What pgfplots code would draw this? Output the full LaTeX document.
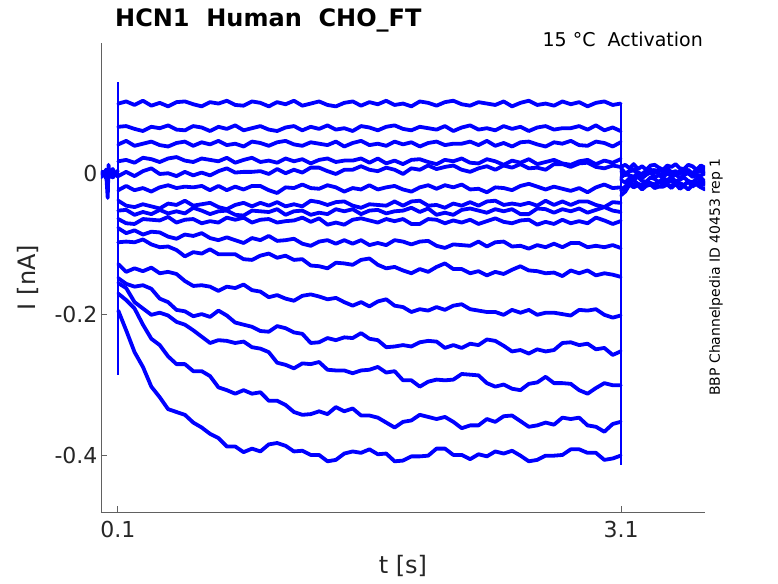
\documentclass[border=0pt]{standalone}
\usepackage{fontspec}
\setmainfont{DejaVu Sans}
\usepackage{pgfplots}
\pgfplotsset{compat=1.18}
\definecolor{axgray}{rgb}{0.38,0.38,0.38}
\definecolor{txtgray}{rgb}{0.15,0.15,0.15}
\begin{document}
\begin{tikzpicture}
\path[use as bounding box] (-101pt,-71pt) rectangle (677pt,512pt);
\begin{axis}[
  at={(0pt,0pt)}, anchor=south west,
  scale only axis, width=604pt, height=469pt,
  xmin=0, xmax=3.6, ymin=-0.48, ymax=0.186,
  axis x line*=bottom, axis y line*=left,
  axis line style={axgray, line width=0.8pt},
  xtick={0.1,3.1}, xticklabels={0.1,3.1},
  ytick={-0.4,-0.2,0}, yticklabels={-0.4,-0.2,0},
  tick align=inside, major tick length=6pt,
  tick style={axgray, line width=0.8pt},
  ticklabel style={font=\fontsize{22}{26}\selectfont, text=txtgray},
  xticklabel style={yshift=-6pt},
  xlabel={t [s]}, ylabel={I [nA]},
  label style={font=\fontsize{24}{28}\selectfont, text=txtgray},
  xlabel style={at={(axis description cs:0.5,-0.1151)}, anchor=center},
  ylabel style={at={(axis description cs:-0.1209,0.5)}, anchor=center},
  tr/.style={color=blue, line width=3.8pt, line join=round, line cap=round},
  tv/.style={color=blue, line width=2.2pt, line join=miter, line cap=butt},
]
% pre-step
\addplot[tr] coordinates {(0,0)(0.01,0.003)(0.02,-0.002)(0.03,0.004)(0.04,-0.034)(0.045,0.013)(0.05,-0.003)(0.06,-0.004)(0.07,0.002)(0.08,0.003)(0.09,-0.001)(0.1,0)};
\addplot[tr] coordinates {(0,-0.005)(0.01,0.001)(0.02,-0.001)(0.03,-0.006)(0.04,0)(0.05,-0.003)(0.06,0.002)(0.07,-0.005)(0.08,-0.002)(0.09,0.001)(0.1,-0.004)};
\addplot[tr] coordinates {(0,0.001)(0.01,0.003)(0.02,-0.001)(0.03,0.006)(0.04,0.004)(0.05,0)(0.06,0.005)(0.07,0.007)(0.08,0.002)(0.09,0)(0.1,0.005)};
% step transients (vertical edges at 0.1 s and 3.1 s)
\addplot[tv] coordinates {(0.1,0.13)(0.1,-0.285)};
\addplot[tv] coordinates {(3.1,0.100)(3.1,-0.413)};
% step traces
\addplot[tr] coordinates {(0.103,0.100)(0.15,0.103)(0.2,0.098)(0.25,0.104)(0.3,0.097)(0.35,0.101)(0.4,0.096)(0.45,0.102)(0.5,0.103)(0.55,0.099)(0.6,0.096)(0.65,0.102)(0.7,0.100)(0.75,0.104)(0.8,0.098)(0.85,0.097)(0.9,0.103)(0.95,0.101)(1.0,0.096)(1.05,0.102)(1.1,0.099)(1.15,0.104)(1.2,0.097)(1.25,0.100)(1.3,0.103)(1.35,0.098)(1.4,0.096)(1.45,0.101)(1.5,0.103)(1.55,0.097)(1.6,0.102)(1.65,0.099)(1.7,0.104)(1.75,0.098)(1.8,0.100)(1.85,0.096)(1.9,0.103)(1.95,0.101)(2.0,0.097)(2.05,0.102)(2.1,0.104)(2.15,0.099)(2.2,0.097)(2.25,0.102)(2.3,0.100)(2.35,0.098)(2.4,0.103)(2.45,0.096)(2.5,0.101)(2.55,0.104)(2.6,0.098)(2.65,0.100)(2.7,0.097)(2.75,0.103)(2.8,0.099)(2.85,0.102)(2.9,0.096)(2.95,0.101)(3.0,0.103)(3.05,0.098)(3.097,0.100)};
\addplot[tr] coordinates {(0.103,0.067)(0.15,0.068)(0.2,0.064)(0.25,0.061)(0.3,0.067)(0.35,0.065)(0.4,0.069)(0.45,0.063)(0.5,0.062)(0.55,0.068)(0.6,0.066)(0.65,0.061)(0.7,0.067)(0.75,0.064)(0.8,0.069)(0.85,0.062)(0.9,0.065)(0.95,0.068)(1.0,0.063)(1.05,0.061)(1.1,0.066)(1.15,0.068)(1.2,0.062)(1.25,0.067)(1.3,0.064)(1.35,0.069)(1.4,0.063)(1.45,0.065)(1.5,0.061)(1.55,0.068)(1.6,0.066)(1.65,0.062)(1.7,0.067)(1.75,0.069)(1.8,0.064)(1.85,0.062)(1.9,0.067)(1.95,0.065)(2.0,0.063)(2.05,0.068)(2.1,0.061)(2.15,0.066)(2.2,0.069)(2.25,0.063)(2.3,0.065)(2.35,0.062)(2.4,0.068)(2.45,0.064)(2.5,0.067)(2.55,0.061)(2.6,0.066)(2.65,0.068)(2.7,0.063)(2.75,0.065)(2.8,0.065)(2.85,0.068)(2.9,0.063)(2.95,0.069)(3.0,0.062)(3.05,0.066)(3.097,0.061)};
\addplot[tr] coordinates {(0.103,0.042)(0.15,0.047)(0.2,0.040)(0.25,0.043)(0.3,0.046)(0.35,0.041)(0.4,0.039)(0.45,0.044)(0.5,0.046)(0.55,0.040)(0.6,0.045)(0.65,0.042)(0.7,0.047)(0.75,0.041)(0.8,0.043)(0.85,0.039)(0.9,0.046)(0.95,0.044)(1.0,0.040)(1.05,0.045)(1.1,0.047)(1.15,0.042)(1.2,0.040)(1.25,0.045)(1.3,0.043)(1.35,0.041)(1.4,0.046)(1.45,0.039)(1.5,0.044)(1.55,0.047)(1.6,0.041)(1.65,0.043)(1.7,0.040)(1.75,0.046)(1.8,0.042)(1.85,0.045)(1.9,0.039)(1.95,0.044)(2.0,0.046)(2.05,0.041)(2.1,0.043)(2.15,0.043)(2.2,0.046)(2.25,0.041)(2.3,0.047)(2.35,0.040)(2.4,0.044)(2.45,0.039)(2.5,0.045)(2.55,0.046)(2.6,0.042)(2.65,0.039)(2.7,0.045)(2.75,0.043)(2.8,0.047)(2.85,0.041)(2.9,0.040)(2.95,0.046)(3.0,0.044)(3.05,0.039)(3.097,0.045)};
\addplot[tr] coordinates {(0.103,0.018)(0.15,0.020)(0.2,0.016)(0.25,0.023)(0.3,0.021)(0.35,0.017)(0.4,0.022)(0.45,0.024)(0.5,0.019)(0.55,0.017)(0.6,0.022)(0.65,0.020)(0.7,0.018)(0.75,0.023)(0.8,0.016)(0.85,0.020)(0.9,0.023)(0.95,0.017)(1.0,0.019)(1.05,0.016)(1.1,0.022)(1.15,0.018)(1.2,0.021)(1.25,0.015)(1.3,0.020)(1.35,0.022)(1.4,0.017)(1.45,0.019)(1.5,0.019)(1.55,0.022)(1.6,0.016)(1.65,0.022)(1.7,0.015)(1.75,0.019)(1.8,0.014)(1.85,0.020)(1.9,0.021)(1.95,0.017)(2.0,0.014)(2.05,0.020)(2.1,0.018)(2.15,0.022)(2.2,0.016)(2.25,0.015)(2.3,0.021)(2.35,0.018)(2.4,0.013)(2.45,0.019)(2.5,0.016)(2.55,0.021)(2.6,0.014)(2.65,0.017)(2.7,0.020)(2.75,0.015)(2.8,0.013)(2.85,0.018)(2.9,0.020)(2.95,0.014)(3.0,0.019)(3.05,0.016)(3.097,0.021)};
\addplot[tr] coordinates {(0.103,-0.003)(0.15,0.003)(0.2,-0.003)(0.25,0.004)(0.3,0.008)(0.35,0.000)(0.4,0.001)(0.45,-0.003)(0.5,0.003)(0.55,-0.002)(0.6,0.002)(0.65,-0.002)(0.7,0.004)(0.75,0.008)(0.8,0.002)(0.85,0.003)(0.9,0.003)(0.95,0.004)(1.0,0.000)(1.05,0.007)(1.1,0.001)(1.15,0.006)(1.2,0.002)(1.25,0.009)(1.3,0.009)(1.35,0.004)(1.4,0.000)(1.45,0.006)(1.5,0.006)(1.55,0.011)(1.6,0.006)(1.65,0.004)(1.7,0.009)(1.75,0.006)(1.8,0.000)(1.85,0.008)(1.9,0.006)(1.95,0.012)(2.0,0.007)(2.05,0.010)(2.1,0.012)(2.15,0.006)(2.2,0.003)(2.25,0.008)(2.3,0.011)(2.35,0.006)(2.4,0.012)(2.45,0.009)(2.5,0.014)(2.55,0.008)(2.6,0.009)(2.65,0.006)(2.7,0.014)(2.75,0.014)(2.8,0.010)(2.85,0.015)(2.9,0.016)(2.95,0.010)(3.0,0.008)(3.05,0.012)(3.097,0.010)};
\addplot[tr] coordinates {(0.103,-0.023)(0.15,-0.017)(0.2,-0.023)(0.25,-0.020)(0.3,-0.025)(0.35,-0.019)(0.4,-0.016)(0.45,-0.020)(0.5,-0.018)(0.55,-0.019)(0.6,-0.017)(0.65,-0.023)(0.7,-0.017)(0.75,-0.023)(0.8,-0.018)(0.85,-0.022)(0.9,-0.017)(0.95,-0.017)(1.0,-0.023)(1.05,-0.027)(1.1,-0.019)(1.15,-0.020)(1.2,-0.015)(1.25,-0.020)(1.3,-0.021)(1.35,-0.016)(1.4,-0.019)(1.45,-0.025)(1.5,-0.020)(1.55,-0.022)(1.6,-0.016)(1.65,-0.022)(1.7,-0.019)(1.75,-0.017)(1.8,-0.022)(1.85,-0.025)(1.9,-0.019)(1.95,-0.016)(2.0,-0.021)(2.05,-0.016)(2.1,-0.019)(2.15,-0.015)(2.2,-0.022)(2.25,-0.021)(2.3,-0.026)(2.35,-0.019)(2.4,-0.020)(2.45,-0.023)(2.5,-0.017)(2.55,-0.014)(2.6,-0.018)(2.65,-0.022)(2.7,-0.018)(2.75,-0.021)(2.8,-0.024)(2.85,-0.020)(2.9,-0.026)(2.95,-0.019)(3.0,-0.015)(3.05,-0.020)(3.097,-0.019)};
\addplot[tr] coordinates {(0.103,-0.038)(0.15,-0.045)(0.2,-0.047)(0.25,-0.043)(0.3,-0.046)(0.35,-0.049)(0.4,-0.042)(0.45,-0.044)(0.5,-0.038)(0.55,-0.045)(0.6,-0.043)(0.65,-0.041)(0.7,-0.047)(0.75,-0.050)(0.8,-0.044)(0.85,-0.041)(0.9,-0.046)(0.95,-0.041)(1.0,-0.045)(1.05,-0.040)(1.1,-0.046)(1.15,-0.043)(1.2,-0.046)(1.25,-0.038)(1.3,-0.040)(1.35,-0.044)(1.4,-0.040)(1.45,-0.039)(1.5,-0.045)(1.55,-0.048)(1.6,-0.043)(1.65,-0.044)(1.7,-0.045)(1.75,-0.039)(1.8,-0.045)(1.85,-0.039)(1.9,-0.038)(1.95,-0.045)(2.0,-0.044)(2.05,-0.048)(2.1,-0.042)(2.15,-0.045)(2.2,-0.040)(2.25,-0.045)(2.3,-0.039)(2.35,-0.038)(2.4,-0.044)(2.45,-0.042)(2.5,-0.044)(2.55,-0.041)(2.6,-0.045)(2.65,-0.038)(2.7,-0.044)(2.75,-0.039)(2.8,-0.044)(2.85,-0.039)(2.9,-0.039)(2.95,-0.044)(3.0,-0.047)(3.05,-0.040)(3.097,-0.041)};
\addplot[tr] coordinates {(0.103,-0.052)(0.15,-0.051)(0.2,-0.058)(0.25,-0.054)(0.3,-0.057)(0.35,-0.051)(0.4,-0.056)(0.45,-0.053)(0.5,-0.056)(0.55,-0.048)(0.6,-0.052)(0.65,-0.057)(0.7,-0.053)(0.75,-0.052)(0.8,-0.058)(0.85,-0.059)(0.9,-0.052)(0.95,-0.053)(1.0,-0.054)(1.05,-0.050)(1.1,-0.058)(1.15,-0.053)(1.2,-0.052)(1.25,-0.058)(1.3,-0.055)(1.35,-0.057)(1.4,-0.050)(1.45,-0.053)(1.5,-0.050)(1.55,-0.057)(1.6,-0.052)(1.65,-0.051)(1.7,-0.056)(1.75,-0.053)(1.8,-0.052)(1.85,-0.048)(1.9,-0.054)(1.95,-0.049)(2.0,-0.058)(2.05,-0.055)(2.1,-0.058)(2.15,-0.051)(2.2,-0.049)(2.25,-0.052)(2.3,-0.055)(2.35,-0.050)(2.4,-0.053)(2.45,-0.050)(2.5,-0.057)(2.55,-0.057)(2.6,-0.049)(2.65,-0.050)(2.7,-0.055)(2.75,-0.050)(2.8,-0.053)(2.85,-0.049)(2.9,-0.055)(2.95,-0.051)(3.0,-0.047)(3.05,-0.052)(3.097,-0.054)};
\addplot[tr] coordinates {(0.103,-0.064)(0.15,-0.070)(0.2,-0.071)(0.25,-0.064)(0.3,-0.065)(0.35,-0.066)(0.4,-0.061)(0.45,-0.069)(0.5,-0.065)(0.55,-0.064)(0.6,-0.070)(0.65,-0.067)(0.7,-0.069)(0.75,-0.062)(0.8,-0.065)(0.85,-0.062)(0.9,-0.069)(0.95,-0.065)(1.0,-0.064)(1.05,-0.069)(1.1,-0.067)(1.15,-0.066)(1.2,-0.062)(1.25,-0.068)(1.3,-0.063)(1.35,-0.072)(1.4,-0.069)(1.45,-0.072)(1.5,-0.065)(1.55,-0.063)(1.6,-0.066)(1.65,-0.069)(1.7,-0.064)(1.75,-0.067)(1.8,-0.064)(1.85,-0.071)(1.9,-0.071)(1.95,-0.064)(2.0,-0.065)(2.05,-0.070)(2.1,-0.066)(2.15,-0.069)(2.2,-0.065)(2.25,-0.071)(2.3,-0.067)(2.35,-0.063)(2.4,-0.068)(2.45,-0.070)(2.5,-0.066)(2.55,-0.065)(2.6,-0.072)(2.65,-0.068)(2.7,-0.071)(2.75,-0.065)(2.8,-0.070)(2.85,-0.067)(2.9,-0.070)(2.95,-0.062)(3.0,-0.066)(3.05,-0.071)(3.097,-0.067)};
\addplot[tr] coordinates {(0.103,-0.077)(0.15,-0.084)(0.2,-0.080)(0.25,-0.086)(0.3,-0.082)(0.35,-0.083)(0.4,-0.089)(0.45,-0.092)(0.5,-0.086)(0.55,-0.088)(0.6,-0.084)(0.65,-0.091)(0.7,-0.094)(0.75,-0.090)(0.8,-0.094)(0.85,-0.098)(0.9,-0.091)(0.95,-0.094)(1.0,-0.088)(1.05,-0.095)(1.1,-0.094)(1.15,-0.092)(1.2,-0.099)(1.25,-0.102)(1.3,-0.096)(1.35,-0.094)(1.4,-0.099)(1.45,-0.094)(1.5,-0.099)(1.55,-0.094)(1.6,-0.101)(1.65,-0.098)(1.7,-0.101)(1.75,-0.094)(1.8,-0.096)(1.85,-0.100)(1.9,-0.096)(1.95,-0.095)(2.0,-0.102)(2.05,-0.105)(2.1,-0.100)(2.15,-0.101)(2.2,-0.102)(2.25,-0.096)(2.3,-0.103)(2.35,-0.097)(2.4,-0.096)(2.45,-0.103)(2.5,-0.102)(2.55,-0.106)(2.6,-0.101)(2.65,-0.104)(2.7,-0.099)(2.75,-0.104)(2.8,-0.098)(2.85,-0.098)(2.9,-0.104)(2.95,-0.102)(3.0,-0.104)(3.05,-0.101)(3.097,-0.105)};
\addplot[tr] coordinates {(0.103,-0.097)(0.15,-0.096)(0.2,-0.097)(0.25,-0.093)(0.3,-0.100)(0.35,-0.104)(0.4,-0.103)(0.45,-0.108)(0.5,-0.117)(0.55,-0.111)(0.6,-0.113)(0.65,-0.107)(0.7,-0.114)(0.75,-0.114)(0.8,-0.114)(0.85,-0.121)(0.9,-0.122)(0.95,-0.116)(1.0,-0.113)(1.05,-0.119)(1.1,-0.116)(1.15,-0.122)(1.2,-0.121)(1.25,-0.130)(1.3,-0.131)(1.35,-0.134)(1.4,-0.126)(1.45,-0.127)(1.5,-0.129)(1.55,-0.122)(1.6,-0.120)(1.65,-0.129)(1.7,-0.134)(1.75,-0.132)(1.8,-0.137)(1.85,-0.141)(1.9,-0.135)(1.95,-0.139)(2.0,-0.132)(2.05,-0.127)(2.1,-0.135)(2.15,-0.135)(2.2,-0.141)(2.25,-0.138)(2.3,-0.144)(2.35,-0.139)(2.4,-0.142)(2.45,-0.136)(2.5,-0.131)(2.55,-0.137)(2.6,-0.138)(2.65,-0.141)(2.7,-0.140)(2.75,-0.145)(2.8,-0.137)(2.85,-0.141)(2.9,-0.137)(2.95,-0.144)(3.0,-0.141)(3.05,-0.143)(3.097,-0.146)};
\addplot[tr] coordinates {(0.103,-0.128)(0.15,-0.139)(0.2,-0.134)(0.25,-0.138)(0.3,-0.133)(0.35,-0.141)(0.4,-0.139)(0.45,-0.142)(0.5,-0.152)(0.55,-0.159)(0.6,-0.158)(0.65,-0.160)(0.7,-0.166)(0.75,-0.160)(0.8,-0.162)(0.85,-0.157)(0.9,-0.165)(0.95,-0.167)(1.0,-0.175)(1.05,-0.172)(1.1,-0.177)(1.15,-0.180)(1.2,-0.173)(1.25,-0.171)(1.3,-0.174)(1.35,-0.178)(1.4,-0.176)(1.45,-0.182)(1.5,-0.187)(1.55,-0.182)(1.6,-0.188)(1.65,-0.181)(1.7,-0.178)(1.75,-0.187)(1.8,-0.189)(1.85,-0.196)(1.9,-0.192)(1.95,-0.194)(2.0,-0.189)(2.05,-0.193)(2.1,-0.187)(2.15,-0.185)(2.2,-0.192)(2.25,-0.194)(2.3,-0.196)(2.35,-0.196)(2.4,-0.200)(2.45,-0.193)(2.5,-0.197)(2.55,-0.193)(2.6,-0.200)(2.65,-0.197)(2.7,-0.197)(2.75,-0.199)(2.8,-0.201)(2.85,-0.193)(2.9,-0.194)(2.95,-0.192)(3.0,-0.200)(3.05,-0.204)(3.097,-0.201)};
\addplot[tr] coordinates {(0.103,-0.148)(0.15,-0.156)(0.2,-0.160)(0.25,-0.158)(0.3,-0.163)(0.35,-0.177)(0.4,-0.182)(0.45,-0.193)(0.5,-0.195)(0.55,-0.202)(0.6,-0.199)(0.65,-0.203)(0.7,-0.194)(0.75,-0.201)(0.8,-0.211)(0.85,-0.214)(0.9,-0.217)(0.95,-0.223)(1.0,-0.224)(1.05,-0.216)(1.1,-0.219)(1.15,-0.225)(1.2,-0.227)(1.25,-0.240)(1.3,-0.239)(1.35,-0.233)(1.4,-0.236)(1.45,-0.232)(1.5,-0.233)(1.55,-0.226)(1.6,-0.234)(1.65,-0.236)(1.7,-0.246)(1.75,-0.245)(1.8,-0.243)(1.85,-0.245)(1.9,-0.239)(1.95,-0.237)(2.0,-0.238)(2.05,-0.247)(2.1,-0.243)(2.15,-0.247)(2.2,-0.241)(2.25,-0.243)(2.3,-0.235)(2.35,-0.237)(2.4,-0.244)(2.45,-0.252)(2.5,-0.250)(2.55,-0.255)(2.6,-0.249)(2.65,-0.252)(2.7,-0.250)(2.75,-0.240)(2.8,-0.239)(2.85,-0.243)(2.9,-0.241)(2.95,-0.249)(3.0,-0.247)(3.05,-0.257)(3.097,-0.252)};
\addplot[tr] coordinates {(0.103,-0.155)(0.15,-0.162)(0.2,-0.182)(0.25,-0.191)(0.3,-0.200)(0.35,-0.197)(0.4,-0.201)(0.45,-0.210)(0.5,-0.214)(0.55,-0.222)(0.6,-0.231)(0.65,-0.240)(0.7,-0.236)(0.75,-0.237)(0.8,-0.240)(0.85,-0.238)(0.9,-0.246)(0.95,-0.248)(1.0,-0.253)(1.05,-0.268)(1.1,-0.271)(1.15,-0.276)(1.2,-0.269)(1.25,-0.270)(1.3,-0.267)(1.35,-0.278)(1.4,-0.279)(1.45,-0.279)(1.5,-0.283)(1.55,-0.279)(1.6,-0.278)(1.65,-0.274)(1.7,-0.282)(1.75,-0.280)(1.8,-0.293)(1.85,-0.293)(1.9,-0.302)(1.95,-0.295)(2.0,-0.292)(2.05,-0.293)(2.1,-0.292)(2.15,-0.284)(2.2,-0.285)(2.25,-0.286)(2.3,-0.297)(2.35,-0.302)(2.4,-0.299)(2.45,-0.305)(2.5,-0.307)(2.55,-0.298)(2.6,-0.296)(2.65,-0.288)(2.7,-0.297)(2.75,-0.297)(2.8,-0.298)(2.85,-0.307)(2.9,-0.312)(2.95,-0.304)(3.0,-0.297)(3.05,-0.300)(3.097,-0.300)};
\addplot[tr] coordinates {(0.103,-0.170)(0.15,-0.179)(0.2,-0.191)(0.25,-0.214)(0.3,-0.234)(0.35,-0.243)(0.4,-0.259)(0.45,-0.270)(0.5,-0.270)(0.55,-0.280)(0.6,-0.280)(0.65,-0.287)(0.7,-0.303)(0.75,-0.307)(0.8,-0.312)(0.85,-0.307)(0.9,-0.312)(0.95,-0.310)(1.0,-0.322)(1.05,-0.322)(1.1,-0.328)(1.15,-0.338)(1.2,-0.342)(1.25,-0.341)(1.3,-0.337)(1.35,-0.341)(1.4,-0.331)(1.45,-0.337)(1.5,-0.333)(1.55,-0.343)(1.6,-0.343)(1.65,-0.346)(1.7,-0.353)(1.75,-0.360)(1.8,-0.352)(1.85,-0.350)(1.9,-0.342)(1.95,-0.345)(2.0,-0.348)(2.05,-0.345)(2.1,-0.352)(2.15,-0.361)(2.2,-0.357)(2.25,-0.357)(2.3,-0.348)(2.35,-0.352)(2.4,-0.344)(2.45,-0.343)(2.5,-0.351)(2.55,-0.359)(2.6,-0.357)(2.65,-0.353)(2.7,-0.356)(2.75,-0.346)(2.8,-0.348)(2.85,-0.346)(2.9,-0.357)(2.95,-0.359)(3.0,-0.366)(3.05,-0.355)(3.097,-0.352)};
\addplot[tr] coordinates {(0.103,-0.194)(0.15,-0.222)(0.2,-0.253)(0.25,-0.274)(0.3,-0.302)(0.35,-0.317)(0.4,-0.334)(0.45,-0.338)(0.5,-0.342)(0.55,-0.353)(0.6,-0.360)(0.65,-0.369)(0.7,-0.375)(0.75,-0.387)(0.8,-0.387)(0.85,-0.395)(0.9,-0.390)(0.95,-0.394)(1.0,-0.384)(1.05,-0.382)(1.1,-0.386)(1.15,-0.394)(1.2,-0.393)(1.25,-0.399)(1.3,-0.399)(1.35,-0.408)(1.4,-0.406)(1.45,-0.397)(1.5,-0.394)(1.55,-0.396)(1.6,-0.391)(1.65,-0.398)(1.7,-0.397)(1.75,-0.408)(1.8,-0.407)(1.85,-0.401)(1.9,-0.401)(1.95,-0.400)(2.0,-0.390)(2.05,-0.390)(2.1,-0.399)(2.15,-0.399)(2.2,-0.405)(2.25,-0.398)(2.3,-0.401)(2.35,-0.394)(2.4,-0.397)(2.45,-0.393)(2.5,-0.400)(2.55,-0.408)(2.6,-0.406)(2.65,-0.400)(2.7,-0.400)(2.75,-0.399)(2.8,-0.391)(2.85,-0.391)(2.9,-0.396)(2.95,-0.396)(3.0,-0.406)(3.05,-0.404)(3.097,-0.400)};
% tail
\addplot[tr] coordinates {(3.1,0.010)(3.125,0.013)(3.15,0.008)(3.175,0.014)(3.2,0.007)(3.225,0.011)(3.25,0.006)(3.275,0.012)(3.3,0.013)(3.325,0.009)(3.35,0.006)(3.375,0.012)(3.4,0.010)(3.425,0.014)(3.45,0.008)(3.475,0.007)(3.5,0.013)(3.525,0.011)(3.55,0.006)(3.575,0.012)(3.6,0.009)};
\addplot[tr] coordinates {(3.1,0.008)(3.125,0.001)(3.15,0.004)(3.175,0.007)(3.2,0.002)(3.225,0.000)(3.25,0.005)(3.275,0.007)(3.3,0.001)(3.325,0.006)(3.35,0.003)(3.375,0.008)(3.4,0.002)(3.425,0.004)(3.45,0.000)(3.475,0.007)(3.5,0.005)(3.525,0.001)(3.55,0.006)(3.575,0.008)(3.6,0.003)};
\addplot[tr] coordinates {(3.1,0.003)(3.125,-0.002)(3.15,0.004)(3.175,0.005)(3.2,0.001)(3.225,-0.002)(3.25,0.004)(3.275,0.002)(3.3,0.006)(3.325,0.000)(3.35,-0.001)(3.375,0.005)(3.4,0.003)(3.425,-0.002)(3.45,0.004)(3.475,0.001)(3.5,0.006)(3.525,-0.001)(3.55,0.002)(3.575,0.005)(3.6,0.000)};
\addplot[tr] coordinates {(3.1,-0.005)(3.125,0.000)(3.15,-0.002)(3.175,-0.004)(3.2,0.001)(3.225,-0.006)(3.25,-0.001)(3.275,0.002)(3.3,-0.004)(3.325,-0.002)(3.35,-0.005)(3.375,0.001)(3.4,-0.003)(3.425,0.000)(3.45,-0.006)(3.475,-0.001)(3.5,0.001)(3.525,-0.004)(3.55,-0.002)(3.575,-0.002)(3.6,0.001)};
\addplot[tr] coordinates {(3.1,-0.009)(3.125,-0.012)(3.15,-0.006)(3.175,-0.008)(3.2,-0.004)(3.225,-0.010)(3.25,-0.011)(3.275,-0.005)(3.3,-0.007)(3.325,-0.012)(3.35,-0.006)(3.375,-0.009)(3.4,-0.004)(3.425,-0.011)(3.45,-0.008)(3.475,-0.005)(3.5,-0.010)(3.525,-0.012)(3.55,-0.007)(3.575,-0.005)(3.6,-0.011)};
\addplot[tr] coordinates {(3.1,-0.023)(3.125,-0.020)(3.15,-0.011)(3.175,-0.009)(3.2,-0.014)(3.225,-0.016)(3.25,-0.011)(3.275,-0.013)(3.3,-0.015)(3.325,-0.010)(3.35,-0.017)(3.375,-0.012)(3.4,-0.009)(3.425,-0.015)(3.45,-0.013)(3.475,-0.016)(3.5,-0.010)(3.525,-0.014)(3.55,-0.011)(3.575,-0.017)(3.6,-0.012)};
\addplot[tr] coordinates {(3.1,-0.022)(3.125,-0.018)(3.15,-0.010)(3.175,-0.016)(3.2,-0.014)(3.225,-0.018)(3.25,-0.011)(3.275,-0.013)(3.3,-0.017)(3.325,-0.012)(3.35,-0.010)(3.375,-0.015)(3.4,-0.017)(3.425,-0.012)(3.45,-0.014)(3.475,-0.016)(3.5,-0.011)(3.525,-0.018)(3.55,-0.013)(3.575,-0.010)(3.6,-0.016)};
\addplot[tr] coordinates {(3.1,-0.030)(3.125,-0.025)(3.15,-0.015)(3.175,-0.019)(3.2,-0.016)(3.225,-0.022)(3.25,-0.017)(3.275,-0.015)(3.3,-0.020)(3.325,-0.018)(3.35,-0.018)(3.375,-0.015)(3.4,-0.020)(3.425,-0.014)(3.45,-0.021)(3.475,-0.017)(3.5,-0.022)(3.525,-0.016)(3.55,-0.015)(3.575,-0.019)(3.6,-0.022)};
\end{axis}
\node[anchor=base west, inner sep=0pt, font=\fontsize{24}{28}\selectfont\bfseries] at (14pt,485pt) {HCN1\ \ Human\ \ CHO\_FT};
\node[anchor=base east, inner sep=0pt, font=\fontsize{19}{22}\selectfont] at (602pt,465pt) {15 °C\ \ Activation};
\node[rotate=90, anchor=center, inner sep=0pt, font=\fontsize{14}{16}\selectfont] at (615pt,235pt) {BBP Channelpedia ID 40453 rep 1};
\end{tikzpicture}
\end{document}
